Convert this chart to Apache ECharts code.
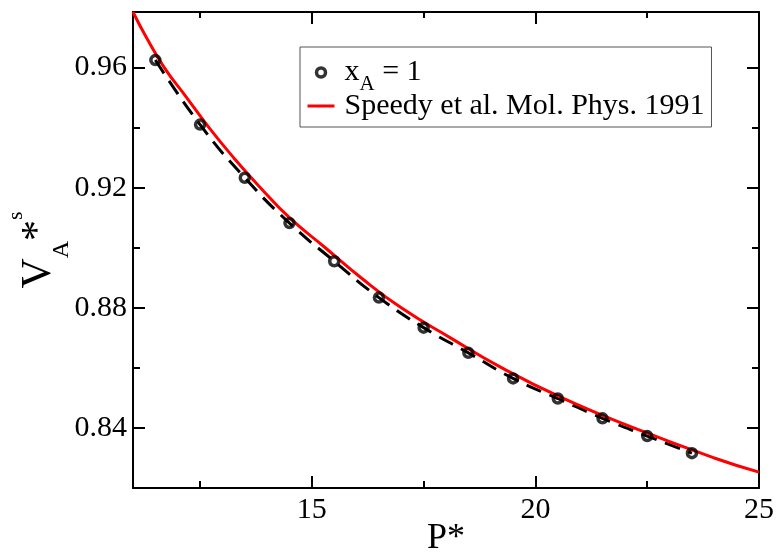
<!DOCTYPE html>
<html><head><meta charset="utf-8">
<script src="https://cdn.jsdelivr.net/npm/echarts@6/dist/echarts.min.js"></script>
<style>html,body{margin:0;padding:0;background:#fff}#c{width:779px;height:555px}</style>
</head><body><div id="c"></div>
<script>
// Simulation points (x_A = 1)
const simP = [11.5, 12.5, 13.5, 14.5, 15.5, 16.5, 17.5, 18.5, 19.5, 20.5, 21.5, 22.5, 23.5];
const simV = [0.9625, 0.9410, 0.9233, 0.9082, 0.8955, 0.8834, 0.8734, 0.8650, 0.8565, 0.8498, 0.8432, 0.8373, 0.8316];
// Speedy et al. curve
const curveP = [11.0, 11.3, 11.7, 12.2, 12.7, 13.25, 13.85, 14.5, 15.3, 16.1, 17.0, 18.1, 19.25, 20.6, 22.2, 24.0, 25.0];
const curveV = [0.9785, 0.970, 0.960, 0.950, 0.940, 0.930, 0.920, 0.910, 0.900, 0.890, 0.880, 0.870, 0.860, 0.850, 0.840, 0.830, 0.8253];
// Axis ticks
const xMajor = [15, 20, 25];
const xMinor = [12.5, 17.5, 22.5];
const yMajor = [0.84, 0.88, 0.92, 0.96];
const yMinor = [0.86, 0.90, 0.94];
const xMin = 11, xMax = 25, yMin = 0.82, yMax = 0.9785;

const FONT = 'Liberation Serif';
const zip = (a, b) => a.map((v, i) => [v, b[i]]);

function mkAxis(kind, pos, ticks, len, showLine, labels) {
  return {
    type: 'value', position: pos,
    min: kind === 'x' ? xMin : yMin, max: kind === 'x' ? xMax : yMax,
    splitLine: { show: false },
    axisLine: { show: showLine, onZero: false, lineStyle: { color: '#000', width: 2 } },
    axisTick: { show: true, inside: true, length: len, customValues: ticks, lineStyle: { color: '#000', width: 2 } },
    axisLabel: labels ? {
      show: true, customValues: labels, color: '#000', fontFamily: FONT, fontSize: 30,
      margin: kind === 'x' ? 7 : 6,
      formatter: v => kind === 'y' ? v.toFixed(2) : String(v)
    } : { show: false }
  };
}

const xAxes = [
  mkAxis('x', 'bottom', xMajor, 12, true, xMajor),
  mkAxis('x', 'bottom', xMinor, 7, false, null),
  mkAxis('x', 'top', xMajor, 12, true, null),
  mkAxis('x', 'top', xMinor, 6, false, null)
];
xAxes[0].name = 'P*';
xAxes[0].nameLocation = 'middle';
xAxes[0].nameGap = 51;
xAxes[0].nameMoveOverlap = false;
xAxes[0].nameTextStyle = { fontFamily: FONT, fontSize: 36, color: '#000', align: 'center', verticalAlign: 'middle' };

const yAxes = [
  mkAxis('y', 'left', yMajor, 12, true, yMajor),
  mkAxis('y', 'left', yMinor, 7, false, null),
  mkAxis('y', 'right', yMajor, 12, true, null),
  mkAxis('y', 'right', yMinor, 7, false, null)
];
yAxes[0].name = '{v|V}{a|A}{v|*}{s|s}';
yAxes[0].nameLocation = 'middle';
yAxes[0].nameRotate = 90;
yAxes[0].nameGap = 94;
yAxes[0].nameMoveOverlap = false;
yAxes[0].nameTextStyle = {
  fontFamily: FONT, color: '#000', align: 'center', verticalAlign: 'middle',
  rich: {
    v: { fontFamily: FONT, fontSize: 42, color: '#000', lineHeight: 44 },
    a: { fontFamily: FONT, fontSize: 24, color: '#000', lineHeight: 44, padding: [46, 0, 0, 0] },
    s: { fontFamily: FONT, fontSize: 22, color: '#000', lineHeight: 44, padding: [0, 0, 46, 0] }
  }
};

const option = {
  backgroundColor: '#fff',
  animation: false,
  grid: { left: 133, right: 20, top: 12, bottom: 67, containLabel: false, outerBoundsMode: 'none' },
  xAxis: xAxes,
  yAxis: yAxes,
  legend: {
    orient: 'vertical', left: 300, top: 47,
    padding: [3, 7, 6, 6],
    itemWidth: 27, itemHeight: 9, itemGap: -4,
    borderColor: '#555', borderWidth: 1, borderRadius: 0,
    backgroundColor: '#fff',
    textStyle: {
      fontFamily: FONT, fontSize: 30, color: '#000', lineHeight: 30,
      rich: {
        m: { fontFamily: FONT, fontSize: 30, color: '#000', lineHeight: 30 },
        f: { fontFamily: FONT, fontSize: 30, color: '#000', lineHeight: 30, padding: [0, 0, 0, 5] },
        s: { fontFamily: FONT, fontSize: 21, color: '#000', lineHeight: 30, padding: [24, 0, 0, 0] }
      }
    },
    formatter: name => name === 'sim' ? '{f|x}{s|A}{m| = 1}' : '{f|Speedy et al. Mol. Phys. 1991}',
    data: [
      { name: 'sim', icon: 'circle', itemStyle: { color: 'transparent', borderColor: '#000', borderWidth: 3.5 } },
      { name: 'speedy', itemStyle: { color: 'transparent', borderColor: 'transparent', borderWidth: 0 }, lineStyle: { color: '#ff0000', width: 3 } }
    ]
  },
  series: [
    {
      name: 'fit', type: 'line', data: zip(simP, simV), smooth: true, showSymbol: false, symbol: 'none',
      lineStyle: { color: '#000', width: 3, type: [16, 9] }, z: 2, silent: true
    },
    {
      name: 'speedy', type: 'line', data: zip(curveP, curveV), smooth: true, symbol: 'none', showSymbol: false,
      lineStyle: { color: '#ff0000', width: 3 }, itemStyle: { color: '#ff0000' }, z: 3, silent: true
    },
    {
      name: 'sim', type: 'scatter', data: zip(simP, simV), symbol: 'circle', symbolSize: 9,
      itemStyle: { color: 'transparent', borderColor: '#000', borderWidth: 3.5 }, z: 4, silent: true
    }
  ]
};
const chart = echarts.init(document.getElementById('c'), null, { renderer: 'canvas' });
chart.setOption(option);
</script></body></html>
